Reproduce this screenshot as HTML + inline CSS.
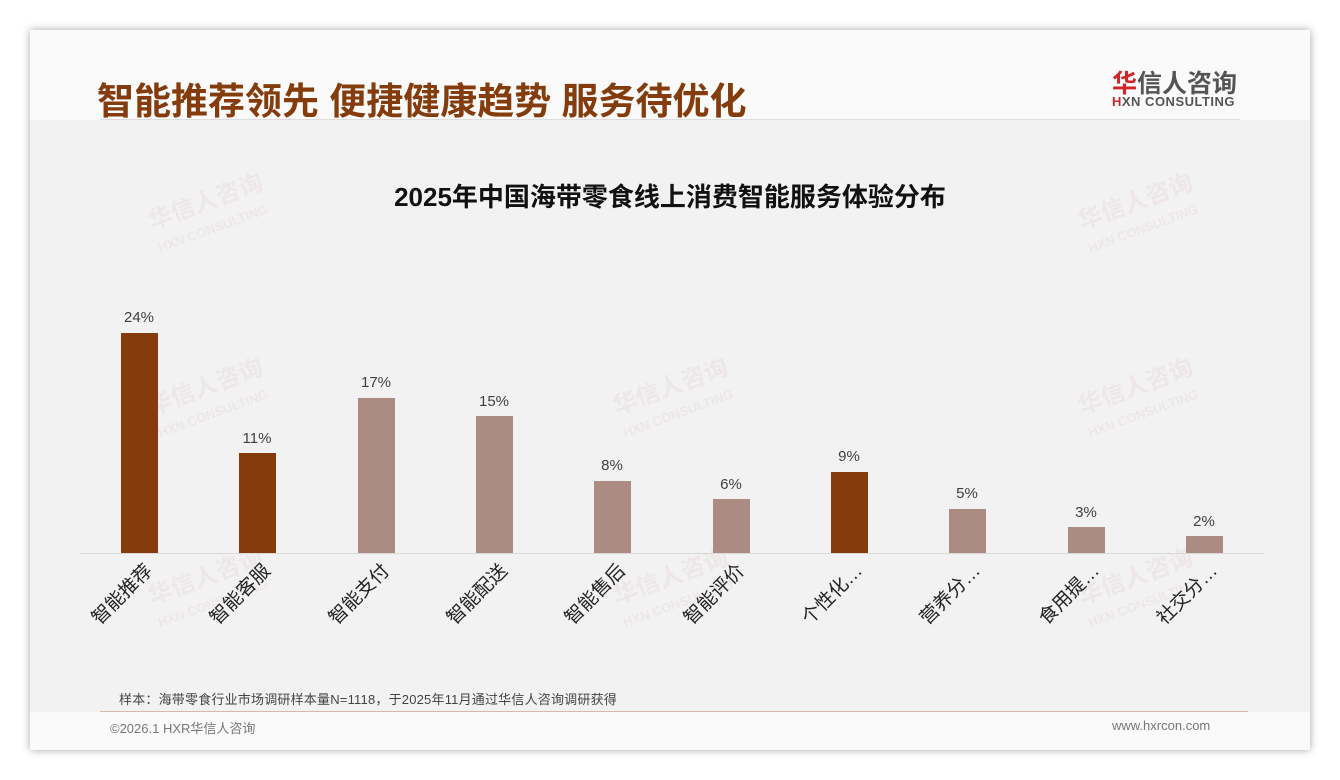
<!DOCTYPE html>
<html><head><meta charset="utf-8"><style>
body{margin:0;width:1340px;height:780px;background:#fff;position:relative;overflow:hidden;font-family:"Liberation Sans","Noto Sans CJK SC",sans-serif}
.card{position:absolute;left:30px;top:30px;width:1280px;height:720px;background:#fafafa;box-shadow:0 0 8px rgba(0,0,0,.35)}
.gray{position:absolute;left:30px;top:120px;width:1280px;height:592px;background:#f2f2f2}
.t{position:absolute;white-space:nowrap}
.bar{position:absolute;width:37px}
.d{background:#843C0C}.l{background:#AB8B82}
.v{position:absolute;width:60px;text-align:center;font-size:15px;color:#404040}
.x{position:absolute;font-size:19px;color:#222;transform:rotate(-45deg);transform-origin:right center;text-align:right;width:140px;white-space:nowrap}
.wm{position:absolute;color:rgba(200,120,120,.09);font-weight:bold;transform:rotate(-20deg);line-height:1}
</style></head><body>
<div class="card"></div><div class="gray"></div>
<div class="t" style="left:97px;top:71px;font-size:37px;font-weight:bold;color:#843C0C">智能推荐领先 便捷健康趋势 服务待优化</div>
<div style="position:absolute;left:100px;top:119px;width:1140px;height:1px;background:#ddd"></div>
<div class="t" style="left:1112px;top:64px;font-size:25px;font-weight:bold;color:#555"><span style="color:#d0262a">华</span>信人咨询</div>
<div class="t" style="left:1112px;top:94px;font-size:13px;font-weight:bold;color:#555;letter-spacing:.5px"><span style="color:#d0262a">H</span>XN CONSULTING</div>
<div class="t" style="left:0;width:1340px;text-align:center;top:177px;font-size:26px;font-weight:bold;color:#111">2025年中国海带零食线上消费智能服务体验分布</div>
<div class="wm" style="left:150px;top:190px;font-size:24px">华信人咨询<br><span style="font-size:13px">HXN CONSULTING</span></div>
<div class="wm" style="left:1080px;top:190px;font-size:24px">华信人咨询<br><span style="font-size:13px">HXN CONSULTING</span></div>
<div class="wm" style="left:150px;top:375px;font-size:24px">华信人咨询<br><span style="font-size:13px">HXN CONSULTING</span></div>
<div class="wm" style="left:615px;top:375px;font-size:24px">华信人咨询<br><span style="font-size:13px">HXN CONSULTING</span></div>
<div class="wm" style="left:1080px;top:375px;font-size:24px">华信人咨询<br><span style="font-size:13px">HXN CONSULTING</span></div>
<div class="wm" style="left:150px;top:565px;font-size:24px">华信人咨询<br><span style="font-size:13px">HXN CONSULTING</span></div>
<div class="wm" style="left:615px;top:565px;font-size:24px">华信人咨询<br><span style="font-size:13px">HXN CONSULTING</span></div>
<div class="wm" style="left:1080px;top:565px;font-size:24px">华信人咨询<br><span style="font-size:13px">HXN CONSULTING</span></div>
<div style="position:absolute;left:80px;top:553px;width:1184px;height:1px;background:#d9d9d9"></div>
<div class="bar d" style="left:121px;top:333px;height:220px"></div><div class="v" style="left:109px;top:309px">24%</div>
<div class="bar d" style="left:239px;top:453px;height:100px"></div><div class="v" style="left:227px;top:430px">11%</div>
<div class="bar l" style="left:358px;top:398px;height:155px"></div><div class="v" style="left:346px;top:374px">17%</div>
<div class="bar l" style="left:476px;top:416px;height:137px"></div><div class="v" style="left:464px;top:393px">15%</div>
<div class="bar l" style="left:594px;top:481px;height:72px"></div><div class="v" style="left:582px;top:457px">8%</div>
<div class="bar l" style="left:713px;top:499px;height:54px"></div><div class="v" style="left:701px;top:476px">6%</div>
<div class="bar d" style="left:831px;top:472px;height:81px"></div><div class="v" style="left:819px;top:448px">9%</div>
<div class="bar l" style="left:949px;top:509px;height:44px"></div><div class="v" style="left:937px;top:485px">5%</div>
<div class="bar l" style="left:1068px;top:527px;height:26px"></div><div class="v" style="left:1056px;top:504px">3%</div>
<div class="bar l" style="left:1186px;top:536px;height:17px"></div><div class="v" style="left:1174px;top:513px">2%</div>
<div class="x" style="left:8px;top:553px">智能推荐</div>
<div class="x" style="left:126px;top:553px">智能客服</div>
<div class="x" style="left:245px;top:553px">智能支付</div>
<div class="x" style="left:363px;top:553px">智能配送</div>
<div class="x" style="left:481px;top:553px">智能售后</div>
<div class="x" style="left:600px;top:553px">智能评价</div>
<div class="x" style="left:718px;top:553px">个性化…</div>
<div class="x" style="left:836px;top:553px">营养分…</div>
<div class="x" style="left:955px;top:553px">食用提…</div>
<div class="x" style="left:1073px;top:553px">社交分…</div>
<div class="t" style="left:119px;top:689px;font-size:13px;color:#444;letter-spacing:0.2px">样本：海带零食行业市场调研样本量N=1118，于2025年11月通过华信人咨询调研获得</div>
<div style="position:absolute;left:100px;top:711px;width:1148px;height:1px;background:#d8b8a8"></div>
<div class="t" style="left:110px;top:718px;font-size:13px;color:#777">©2026.1 HXR华信人咨询</div>
<div class="t" style="left:1112px;top:718px;font-size:13px;color:#777">www.hxrcon.com</div>
</body></html>
